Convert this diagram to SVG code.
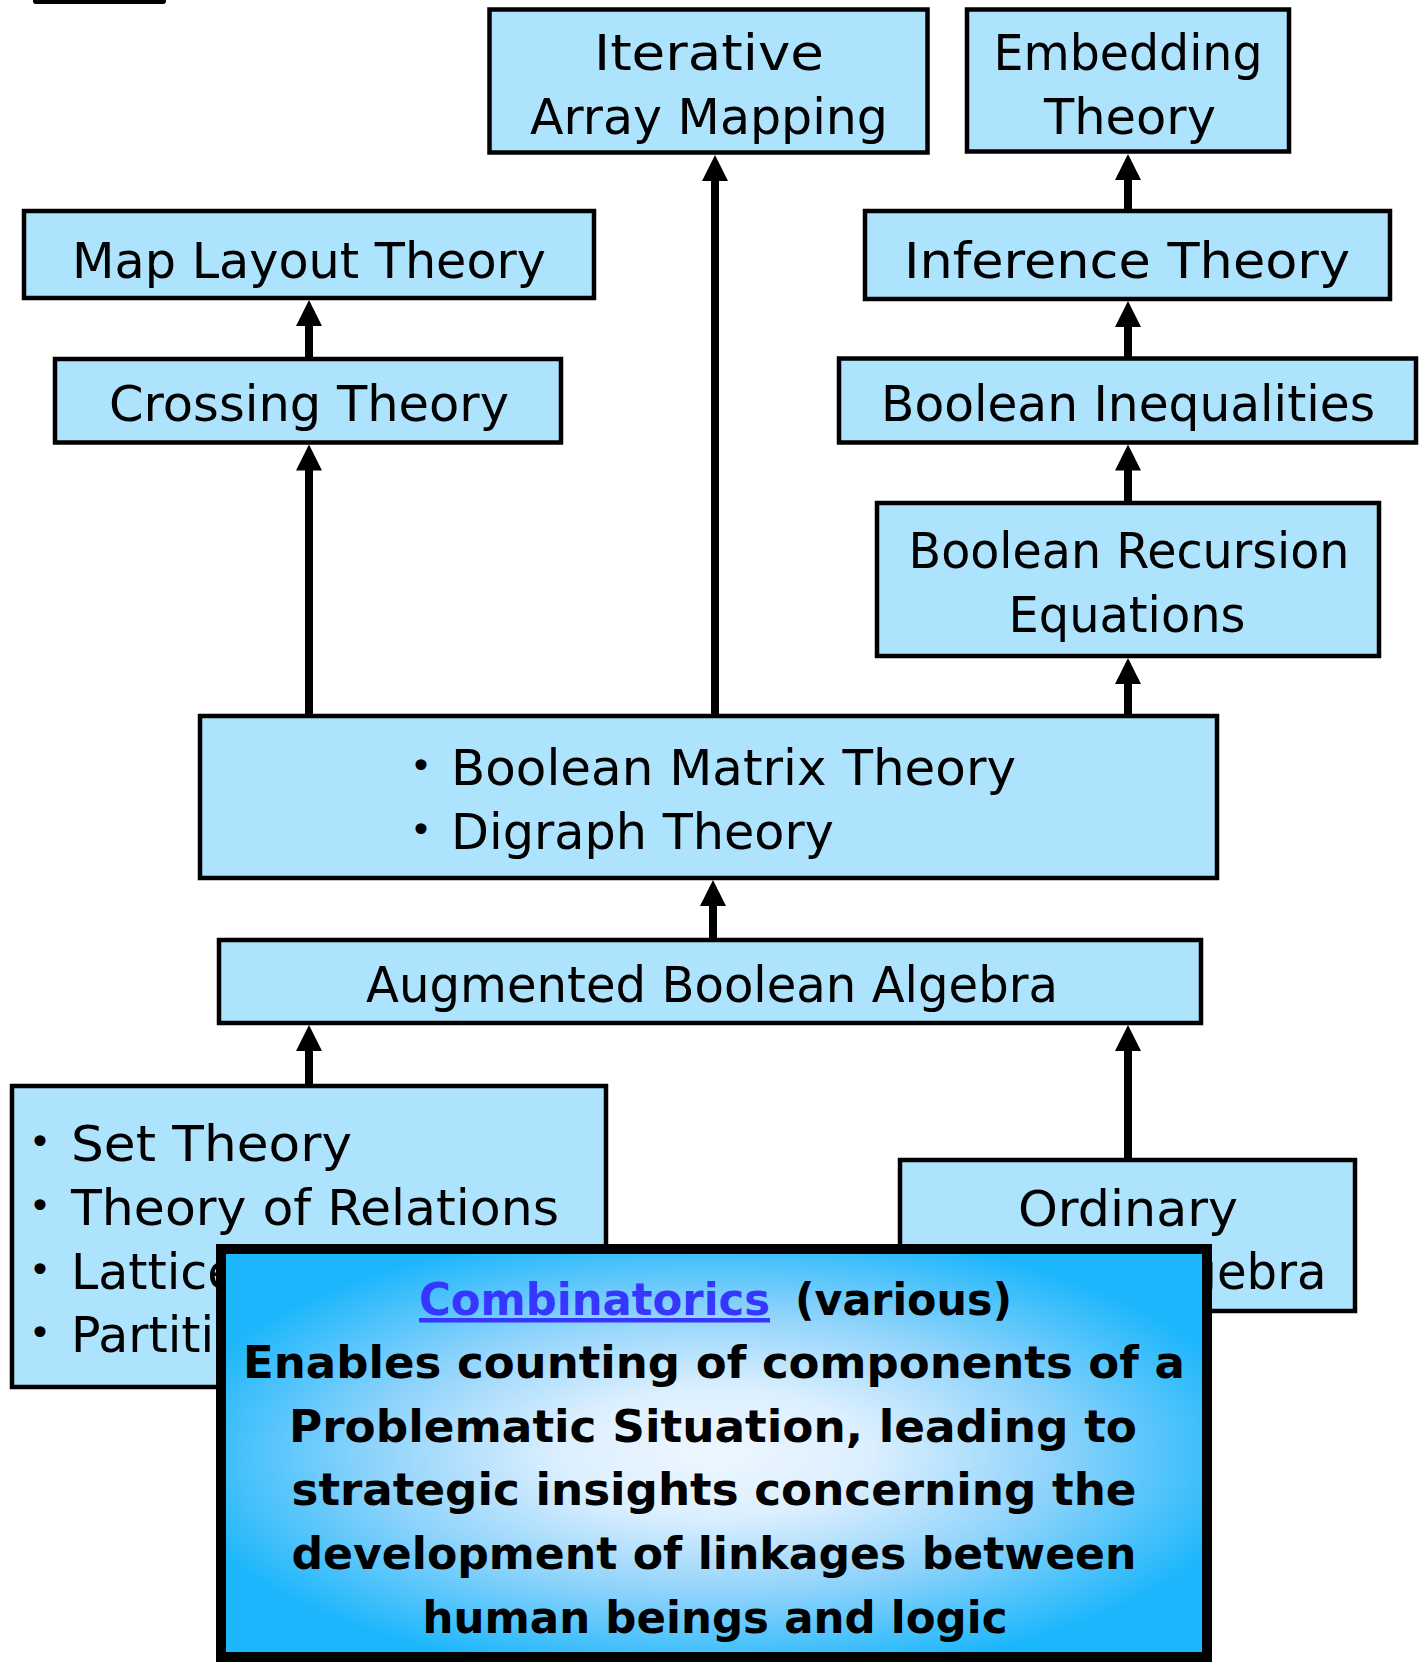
<svg xmlns="http://www.w3.org/2000/svg" width="1427" height="1662" viewBox="0 0 1427 1662">
<style>
.node rect{fill:#ade3fc;stroke:#000;stroke-width:4.5}
.t{font-family:"DejaVu Sans",sans-serif;font-size:49px;fill:#000}
.c{text-anchor:middle}
.b{font-family:"DejaVu Sans",sans-serif;font-size:38px;fill:#000;text-anchor:middle}
.cl{font-family:"DejaVu Sans",sans-serif;font-size:45px;font-weight:bold;fill:#000;text-anchor:middle}
.conn line{stroke:#000;stroke-width:8;marker-end:url(#ah)}
</style>
<defs>
<marker id="ah" viewBox="0 0 26 26" refX="4" refY="13" markerWidth="26" markerHeight="26" markerUnits="userSpaceOnUse" orient="auto">
<path d="M0,0 L26,13 L0,26 z" fill="#000"/>
</marker>
<radialGradient id="cg" cx="0.5" cy="0.5" r="0.56">
<stop offset="0" stop-color="#eef7ff"/>
<stop offset="0.28" stop-color="#dcefff"/>
<stop offset="0.62" stop-color="#8ed3fb"/>
<stop offset="1" stop-color="#1cb6fc"/>
</radialGradient>
</defs>
<rect x="33" y="-4" width="133" height="8" rx="3" fill="#000"/>
<g class="conn" id="connectors">
<line x1="309" y1="359" x2="309" y2="322"/>
<line x1="309" y1="716" x2="309" y2="466.5"/>
<line x1="715" y1="716" x2="715" y2="177"/>
<line x1="1128" y1="716" x2="1128" y2="680"/>
<line x1="1128" y1="503" x2="1128" y2="466.5"/>
<line x1="1128" y1="358.5" x2="1128" y2="323"/>
<line x1="1128" y1="211" x2="1128" y2="176"/>
<line x1="713" y1="940" x2="713" y2="902"/>
<line x1="309" y1="1086" x2="309" y2="1047"/>
<line x1="1128" y1="1160" x2="1128" y2="1047"/>
</g>
<g class="node" id="iterative">
<rect x="489.5" y="9.5" width="438" height="143"/>
<text class="t c" x="709" y="70" textLength="230" lengthAdjust="spacingAndGlyphs">Iterative</text>
<text class="t c" x="709" y="134" textLength="358" lengthAdjust="spacingAndGlyphs">Array Mapping</text>
</g>
<g class="node" id="embedding">
<rect x="967" y="9.5" width="322" height="142"/>
<text class="t c" x="1128" y="70" textLength="269" lengthAdjust="spacingAndGlyphs">Embedding</text>
<text class="t c" x="1130" y="134" textLength="172" lengthAdjust="spacingAndGlyphs">Theory</text>
</g>
<g class="node" id="maplayout">
<rect x="24" y="211" width="570" height="87"/>
<text class="t c" x="309" y="278" textLength="474" lengthAdjust="spacingAndGlyphs">Map Layout Theory</text>
</g>
<g class="node" id="inference">
<rect x="865" y="211" width="525" height="88"/>
<text class="t c" x="1127" y="278" textLength="446" lengthAdjust="spacingAndGlyphs">Inference Theory</text>
</g>
<g class="node" id="crossing">
<rect x="55" y="359" width="506" height="83.5"/>
<text class="t c" x="309" y="421" textLength="400" lengthAdjust="spacingAndGlyphs">Crossing Theory</text>
</g>
<g class="node" id="inequalities">
<rect x="839" y="358.5" width="577" height="84"/>
<text class="t c" x="1128" y="421" textLength="494" lengthAdjust="spacingAndGlyphs">Boolean Inequalities</text>
</g>
<g class="node" id="recursion">
<rect x="877" y="503" width="502" height="153"/>
<text class="t c" x="1129" y="568" textLength="441" lengthAdjust="spacingAndGlyphs">Boolean Recursion</text>
<text class="t c" x="1127" y="632" textLength="237" lengthAdjust="spacingAndGlyphs">Equations</text>
</g>
<g class="node" id="matrix">
<rect x="200" y="716" width="1017" height="162"/>
<text class="b" x="421" y="779">•</text>
<text class="t" x="451" y="785" textLength="565" lengthAdjust="spacingAndGlyphs">Boolean Matrix Theory</text>
<text class="b" x="421" y="843">•</text>
<text class="t" x="451" y="849" textLength="383" lengthAdjust="spacingAndGlyphs">Digraph Theory</text>
</g>
<g class="node" id="augmented">
<rect x="219" y="940" width="982" height="83"/>
<text class="t c" x="712" y="1002" textLength="692" lengthAdjust="spacingAndGlyphs">Augmented Boolean Algebra</text>
</g>
<g class="node" id="foundations">
<rect x="12" y="1086" width="594" height="301"/>
<text class="b" x="40" y="1155">•</text>
<text class="t" x="71" y="1161" textLength="281" lengthAdjust="spacingAndGlyphs">Set Theory</text>
<text class="b" x="40" y="1219">•</text>
<text class="t" x="71" y="1225" textLength="488" lengthAdjust="spacingAndGlyphs">Theory of Relations</text>
<text class="b" x="40" y="1283">•</text>
<text class="t" x="71" y="1289">Lattice Theory</text>
<text class="b" x="40" y="1346">•</text>
<text class="t" x="71" y="1352">Partition Theory</text>
</g>
<g class="node" id="ordinary">
<rect x="900" y="1160" width="455" height="151"/>
<text class="t c" x="1128" y="1226" textLength="220" lengthAdjust="spacingAndGlyphs">Ordinary</text>
<text class="t c" x="1128" y="1289" textLength="397" lengthAdjust="spacingAndGlyphs">Boolean Algebra</text>
</g>
<g id="combinatorics">
<rect x="221" y="1249" width="986" height="408" fill="url(#cg)" stroke="#000" stroke-width="10"/>
<text class="cl" x="594.5" y="1315" textLength="351" lengthAdjust="spacingAndGlyphs" style="fill:#3636ff" text-decoration="underline">Combinatorics</text>
<text class="cl" x="903.5" y="1315" textLength="217" lengthAdjust="spacingAndGlyphs">(various)</text>
<text class="cl" x="714" y="1378" textLength="942" lengthAdjust="spacingAndGlyphs">Enables counting of components of a</text>
<text class="cl" x="713" y="1442" textLength="848" lengthAdjust="spacingAndGlyphs">Problematic Situation, leading to</text>
<text class="cl" x="714" y="1505" textLength="845" lengthAdjust="spacingAndGlyphs">strategic insights concerning the</text>
<text class="cl" x="714" y="1569" textLength="845" lengthAdjust="spacingAndGlyphs">development of linkages between</text>
<text class="cl" x="715" y="1633" textLength="585" lengthAdjust="spacingAndGlyphs">human beings and logic</text>
</g>
</svg>
